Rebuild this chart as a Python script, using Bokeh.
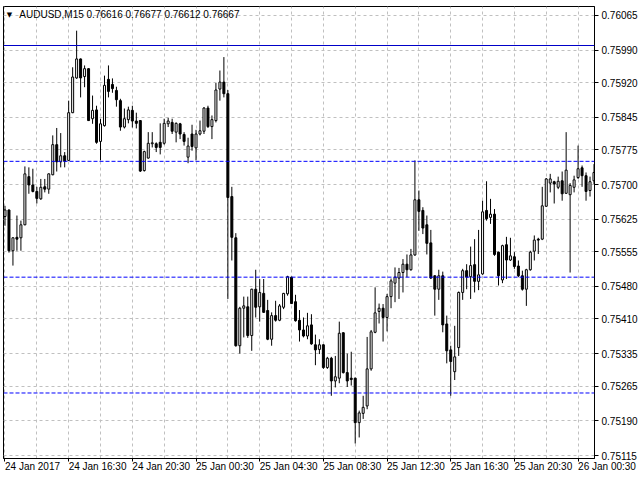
from bokeh.plotting import figure
from bokeh.models import (FixedTicker, Span, Label, PrintfTickFormatter,
                          ColumnDataSource, Range1d)
from bokeh.embed import file_html
from bokeh.resources import INLINE

# ---------------- data ----------------
chart_title = "AUDUSD,M15  0.76616 0.76677 0.76612 0.76667"
time_labels = ["24 Jan 2017", "24 Jan 16:30", "24 Jan 20:30", "25 Jan 00:30",
               "25 Jan 04:30", "25 Jan 08:30", "25 Jan 12:30", "25 Jan 16:30",
               "25 Jan 20:30", "26 Jan 00:30"]
bars_per_label = 16
bars_per_grid = 8
price_ticks = [0.76065, 0.75990, 0.75920, 0.75845, 0.75775, 0.75700, 0.75625,
               0.75555, 0.75480, 0.75410, 0.75335, 0.75265, 0.75190, 0.75115]
solid_levels = [0.76000]
dashed_levels = [0.75750, 0.75500, 0.75250]

open_ = [0.75631, 0.75645, 0.75557, 0.75586, 0.75585, 0.75613, 0.75717, 0.75699, 0.75685, 0.75669,
         0.75695, 0.75690, 0.75721, 0.75786, 0.75749, 0.75762, 0.75752, 0.75855, 0.75930, 0.75971,
         0.75933, 0.75950, 0.75842, 0.75861, 0.75793, 0.75827, 0.75927, 0.75916, 0.75903, 0.75881,
         0.75824, 0.75840, 0.75860, 0.75837, 0.75838, 0.75730, 0.75757, 0.75788, 0.75788, 0.75791,
         0.75789, 0.75831, 0.75834, 0.75813, 0.75831, 0.75808, 0.75759, 0.75809, 0.75779, 0.75809,
         0.75815, 0.75865, 0.75825, 0.75838, 0.75906, 0.75921, 0.75896, 0.75674, 0.75585, 0.75352,
         0.75433, 0.75436, 0.75374, 0.75474, 0.75436, 0.75465, 0.75428, 0.75366, 0.75417, 0.75407,
         0.75435, 0.75464, 0.75500, 0.75447, 0.75407, 0.75386, 0.75373, 0.75397, 0.75354, 0.75344,
         0.75354, 0.75305, 0.75325, 0.75276, 0.75282, 0.75380, 0.75294, 0.75282, 0.75282, 0.75186,
         0.75206, 0.75222, 0.75302, 0.75381, 0.75426, 0.75433, 0.75413, 0.75458, 0.75487, 0.75498,
         0.75510, 0.75528, 0.75516, 0.75548, 0.75667, 0.75644, 0.75613, 0.75574, 0.75503, 0.75474,
         0.75503, 0.75399, 0.75343, 0.75296, 0.75348, 0.75467, 0.75514, 0.75501, 0.75527, 0.75491,
         0.75507, 0.75644, 0.75629, 0.75636, 0.75554, 0.75494, 0.75570, 0.75537, 0.75544, 0.75524,
         0.75503, 0.75474, 0.75516, 0.75556, 0.75582, 0.75582, 0.75653, 0.75703, 0.75706, 0.75694,
         0.75708, 0.75681, 0.75678, 0.75694, 0.75715, 0.75736, 0.75719, 0.75687, 0.75708]
high = [0.75654, 0.75646, 0.75586, 0.75633, 0.75622, 0.75739, 0.75737, 0.75734, 0.75695, 0.75712,
        0.75712, 0.75724, 0.75806, 0.75822, 0.75811, 0.75770, 0.75881, 0.75953, 0.76032, 0.75972,
        0.75957, 0.75951, 0.75892, 0.75870, 0.75842, 0.75935, 0.75957, 0.75929, 0.75911, 0.75885,
        0.75864, 0.75868, 0.75870, 0.75855, 0.75839, 0.75773, 0.75813, 0.75813, 0.75791, 0.75832,
        0.75842, 0.75844, 0.75842, 0.75834, 0.75833, 0.75813, 0.75801, 0.75829, 0.75818, 0.75838,
        0.75867, 0.75870, 0.75849, 0.75919, 0.75946, 0.75975, 0.75904, 0.75695, 0.75595, 0.75436,
        0.75458, 0.75458, 0.75475, 0.75516, 0.75496, 0.75496, 0.75451, 0.75424, 0.75449, 0.75442,
        0.75466, 0.75503, 0.75501, 0.75462, 0.75429, 0.75413, 0.75423, 0.75420, 0.75376, 0.75366,
        0.75355, 0.75328, 0.75328, 0.75330, 0.75404, 0.75381, 0.75335, 0.75339, 0.75283, 0.75212,
        0.75244, 0.75371, 0.75386, 0.75478, 0.75443, 0.75442, 0.75464, 0.75497, 0.75521, 0.75520,
        0.75539, 0.75549, 0.75561, 0.75752, 0.75687, 0.75651, 0.75633, 0.75602, 0.75504, 0.75516,
        0.75512, 0.75417, 0.75352, 0.75395, 0.75469, 0.75518, 0.75528, 0.75566, 0.75582, 0.75602,
        0.75665, 0.75707, 0.75669, 0.75647, 0.75555, 0.75570, 0.75587, 0.75585, 0.75554, 0.75536,
        0.75514, 0.75518, 0.75557, 0.75590, 0.75585, 0.75695, 0.75714, 0.75723, 0.75708, 0.75717,
        0.75728, 0.75813, 0.75703, 0.75719, 0.75784, 0.75741, 0.75726, 0.75717, 0.75744]
low = [0.75611, 0.75553, 0.75525, 0.75557, 0.75557, 0.75612, 0.75680, 0.75683, 0.75659, 0.75667,
       0.75683, 0.75680, 0.75720, 0.75728, 0.75737, 0.75737, 0.75751, 0.75854, 0.75928, 0.75888,
       0.75910, 0.75837, 0.75831, 0.75788, 0.75752, 0.75825, 0.75888, 0.75898, 0.75868, 0.75816,
       0.75821, 0.75832, 0.75823, 0.75821, 0.75727, 0.75728, 0.75756, 0.75780, 0.75770, 0.75765,
       0.75786, 0.75824, 0.75809, 0.75791, 0.75798, 0.75784, 0.75746, 0.75773, 0.75752, 0.75806,
       0.75809, 0.75822, 0.75798, 0.75834, 0.75881, 0.75888, 0.75453, 0.75536, 0.75350, 0.75335,
       0.75370, 0.75369, 0.75341, 0.75413, 0.75404, 0.75423, 0.75364, 0.75352, 0.75404, 0.75405,
       0.75431, 0.75460, 0.75442, 0.75404, 0.75361, 0.75370, 0.75366, 0.75354, 0.75310, 0.75334,
       0.75302, 0.75302, 0.75244, 0.75262, 0.75271, 0.75292, 0.75263, 0.75266, 0.75141, 0.75154,
       0.75194, 0.75215, 0.75298, 0.75379, 0.75400, 0.75361, 0.75383, 0.75433, 0.75446, 0.75453,
       0.75467, 0.75500, 0.75514, 0.75546, 0.75600, 0.75593, 0.75549, 0.75496, 0.75417, 0.75451,
       0.75381, 0.75314, 0.75244, 0.75278, 0.75330, 0.75451, 0.75474, 0.75453, 0.75467, 0.75472,
       0.75505, 0.75622, 0.75615, 0.75546, 0.75482, 0.75487, 0.75496, 0.75535, 0.75518, 0.75500,
       0.75471, 0.75438, 0.75514, 0.75536, 0.75550, 0.75580, 0.75652, 0.75683, 0.75659, 0.75690,
       0.75665, 0.75680, 0.75510, 0.75683, 0.75712, 0.75695, 0.75665, 0.75674, 0.75701]
close = [0.75645, 0.75557, 0.75585, 0.75582, 0.75613, 0.75723, 0.75699, 0.75685, 0.75670, 0.75694,
         0.75690, 0.75723, 0.75786, 0.75749, 0.75762, 0.75750, 0.75855, 0.75932, 0.75971, 0.75930,
         0.75950, 0.75838, 0.75860, 0.75791, 0.75831, 0.75914, 0.75901, 0.75907, 0.75883, 0.75824,
         0.75842, 0.75861, 0.75837, 0.75832, 0.75729, 0.75771, 0.75789, 0.75790, 0.75780, 0.75780,
         0.75832, 0.75837, 0.75815, 0.75832, 0.75809, 0.75793, 0.75783, 0.75782, 0.75809, 0.75816,
         0.75865, 0.75825, 0.75840, 0.75904, 0.75921, 0.75896, 0.75672, 0.75586, 0.75352, 0.75433,
         0.75438, 0.75374, 0.75474, 0.75435, 0.75467, 0.75424, 0.75366, 0.75417, 0.75407, 0.75438,
         0.75465, 0.75501, 0.75443, 0.75406, 0.75386, 0.75373, 0.75395, 0.75356, 0.75343, 0.75354,
         0.75305, 0.75325, 0.75276, 0.75285, 0.75379, 0.75294, 0.75276, 0.75279, 0.75186, 0.75207,
         0.75219, 0.75302, 0.75382, 0.75423, 0.75433, 0.75413, 0.75458, 0.75492, 0.75500, 0.75510,
         0.75528, 0.75516, 0.75548, 0.75667, 0.75642, 0.75606, 0.75573, 0.75498, 0.75474, 0.75503,
         0.75397, 0.75341, 0.75318, 0.75328, 0.75467, 0.75514, 0.75500, 0.75525, 0.75491, 0.75505,
         0.75641, 0.75626, 0.75636, 0.75549, 0.75503, 0.75568, 0.75537, 0.75546, 0.75523, 0.75503,
         0.75474, 0.75516, 0.75554, 0.75580, 0.75580, 0.75654, 0.75712, 0.75712, 0.75701, 0.75707,
         0.75680, 0.75731, 0.75698, 0.75710, 0.75734, 0.75719, 0.75685, 0.75706, 0.75726]

# ---------------- figure ----------------
n = len(close)
xs = list(range(n))
src = ColumnDataSource(dict(
    x=xs, high=high, low=low,
    top=[max(o, c) for o, c in zip(open_, close)],
    bottom=[min(o, c) for o, c in zip(open_, close)],
    fill=["white" if c >= o else "black" for o, c in zip(open_, close)],
))

FONT = "Liberation Sans"

p = figure(width=640, height=480, output_backend="svg", toolbar_location=None,
           x_range=Range1d(-0.375, n - 0.875),
           y_range=Range1d(0.751086, 0.760842),
           y_axis_location="right",
           min_border_left=3, min_border_top=6, min_border_right=43, min_border_bottom=22,
           background_fill_color="white", border_fill_color="white")
p.styles = {"position": "absolute", "left": "0px", "top": "0px"}

p.outline_line_color = "black"
p.outline_line_width = 1

# grid
p.xgrid.ticker = FixedTicker(ticks=list(range(0, n, bars_per_grid)))
for g in (p.xgrid, p.ygrid):
    g.grid_line_color = "#c0c0c0"
    g.grid_line_dash = "3 3"
    g.grid_line_width = 1

# y axis (right)
ya = p.yaxis[0]
ya.ticker = FixedTicker(ticks=price_ticks)
ya.formatter = PrintfTickFormatter(format="%.5f")
ya.major_tick_out = 4
ya.major_tick_in = 0
ya.minor_tick_line_color = None
ya.major_label_standoff = 3
ya.major_label_text_font = FONT
ya.major_label_text_font_size = "10px"
ya.major_label_text_color = "black"
ya.axis_line_color = "black"
ya.major_tick_line_color = "black"

# x axis (below)
xa = p.xaxis[0]
label_pos = [bars_per_label * k for k in range(len(time_labels))]
xa.ticker = FixedTicker(ticks=label_pos)
xa.major_label_overrides = {pos: lab for pos, lab in zip(label_pos, time_labels)}
xa.major_label_orientation = -1e-6
xa.major_tick_out = 3
xa.major_tick_in = 0
xa.minor_tick_line_color = None
xa.major_label_standoff = 5
xa.major_label_text_font = FONT
xa.major_label_text_font_size = "10px"
xa.major_label_text_color = "black"
xa.axis_line_color = "black"
xa.major_tick_line_color = "black"

# horizontal level lines
for lvl in solid_levels:
    p.add_layout(Span(location=lvl, dimension="width", line_color="#0000c8", line_width=1))
for lvl in dashed_levels:
    p.add_layout(Span(location=lvl, dimension="width", line_color="#0000ff",
                      line_width=1, line_dash="4 2"))

# candles
p.segment(x0="x", y0="low", x1="x", y1="high", line_color="black", line_width=1, source=src)
p.vbar(x="x", width=0.5, top="top", bottom="bottom", fill_color="fill",
       line_color="black", line_width=1, source=src)

# header text
title_y = 0.760659
p.add_layout(Label(x=1.125, y=title_y, text="\u25bc", text_font="DejaVu Sans",
                   text_font_size="7px", text_align="center", text_baseline="middle",
                   text_color="black"))
p.add_layout(Label(x=3.6, y=title_y, text=chart_title, text_font=FONT,
                   text_font_size="10px", text_baseline="middle", text_color="black"))

open("out.html", "w").write(file_html(p, INLINE))
